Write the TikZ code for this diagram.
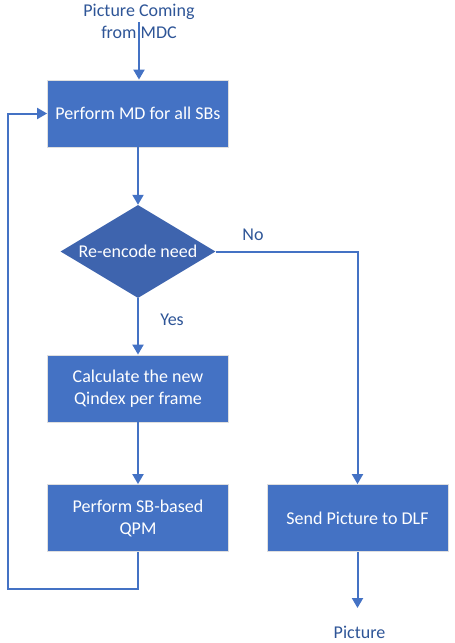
\documentclass[tikz,border=0pt]{standalone}
\usepackage{fontspec}
\setmainfont{Carlito}
\usetikzlibrary{arrows.meta,shapes.geometric}
\definecolor{boxblue}{HTML}{4472C4}
\definecolor{decblue}{HTML}{3E64AE}
\definecolor{lineblue}{HTML}{4472C4}
\definecolor{textblue}{HTML}{2E5597}
\tikzset{>={Triangle[width=11pt,length=10pt]}}
\tikzstyle{process}=[rectangle,draw=gray!25,fill=boxblue,line width=0.8pt,text=white,align=center,minimum width=181pt,minimum height=67pt,inner sep=0pt]
\tikzstyle{decision}=[diamond,fill=decblue,text=white,aspect=1.667,minimum width=155pt,minimum height=93pt,inner sep=0pt]
\tikzstyle{flowtext}=[text=textblue,align=center,inner sep=0pt]
\tikzstyle{flow}=[draw=lineblue,line width=2pt]

\begin{document}
\begin{tikzpicture}[x=1pt,y=-1pt,font=\fontsize{18}{22}\selectfont]
\def \colx {138};
\def \rightx {357.5};
\def \loopx {8};
\def \loopy {589};

\useasboundingbox (0,0) rectangle (455,643);

% nodes
\node[flowtext] (src) at (\colx+1, 21.5) {Picture Coming\\from MDC};
\node[process] (md) at (\colx, 113.5) {Perform MD for all SBs};
\node[decision] (need) at (\colx, 251.5) {Re-encode need};
\node[process] (qidx) at (\colx, 388.5) {Calculate the new\\Qindex per frame};
\node[process] (qpm) at (\colx, 518) {Perform SB-based\\QPM};
\node[process] (dlf) at (\rightx, 518) {Send Picture to DLF};
\node[flowtext] (out) at (\rightx+2, 632) {Picture};
\node[flowtext] (no) at (253, 235) {No};
\node[flowtext] (yes) at (172, 320) {Yes};

\coordinate (srcend) at (\colx+1, 22);
\coordinate (outend) at (\rightx, 608);

% connectors
\draw[flow,->] (srcend) -- (md.north -| srcend);
\draw[flow,->] (md) -- (need);
\draw[flow,->] (need) -- (qidx);
\draw[flow,->] (qidx) -- (qpm);
\draw[flow,->] (need.east) -| (dlf.north);
\draw[flow,->] (dlf) -- (outend);
\draw[flow,->] (qpm.south) -- (\colx, \loopy) -- (\loopx, \loopy) |- (md.west);

\end{tikzpicture}
\end{document}
